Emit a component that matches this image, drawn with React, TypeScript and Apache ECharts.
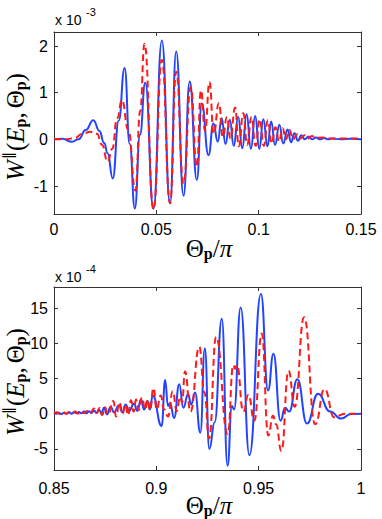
import React, { useEffect, useRef } from 'react';
import * as echarts from 'echarts';

// Top panel: W values in units of 1e-3, bottom panel: units of 1e-4
const topXTicks = ['0', '0.05', '0.1', '0.15'];
const bottomXTicks = ['0.85', '0.9', '0.95', '1'];

const topBlue: [number, number][] = [
  [0, 0], [0.004, 0.01], [0.0088, -0.05], [0.012, 0.0], [0.0155, 0.2], [0.0192, 0.41],
  [0.0222, 0.18], [0.0245, -0.08], [0.0262, -0.3], [0.0287, -0.84], [0.0316, 0.4],
  [0.0345, 1.53], [0.037, -0.1], [0.0395, -1.48], [0.042, 0.1], [0.0446, 1.21],
  [0.0486, -1.49], [0.0527, 2.12], [0.0567, -1.37], [0.0597, 1.88], [0.0633, -1.21],
  [0.0663, 1.24], [0.0698, -0.87], [0.0722, 0.77], [0.0755, -0.34], [0.0779, 0.34],
  [0.08, -0.05], [0.0819, 0.45], [0.0838, -0.1], [0.0859, 0.42], [0.0878, -0.14],
  [0.09, 0.48], [0.092, -0.19], [0.0941, 0.54], [0.0962, -0.2], [0.0983, 0.5],
  [0.1003, -0.2], [0.1023, 0.43], [0.1043, -0.15], [0.1061, 0.38], [0.108, -0.12],
  [0.1101, 0.31], [0.112, -0.09], [0.1141, 0.21], [0.1158, -0.06], [0.1175, 0.13],
  [0.1192, -0.03], [0.1208, 0.09], [0.1225, 0.0], [0.1244, 0.06], [0.1262, 0.0],
  [0.128, 0.04], [0.13, 0.0], [0.132, 0.03], [0.134, 0.0], [0.136, 0.02], [0.14, 0.0],
  [0.145, 0.01], [0.15, 0.0],
];

const topRed: [number, number][] = [
  [0, 0], [0.006, 0.0], [0.01, 0.03], [0.014, 0.12], [0.0176, 0.16], [0.021, 0.12],
  [0.0235, -0.12], [0.0262, -0.48], [0.0285, -0.2], [0.0308, 0.45], [0.0332, 0.84],
  [0.0363, 0.2], [0.0398, -1.1], [0.0421, 0.6], [0.0442, 2.05], [0.0486, -1.5],
  [0.0527, 1.7], [0.0567, -1.37], [0.0597, 1.45], [0.0633, -0.95], [0.0668, 1.12],
  [0.0698, -0.59], [0.0718, 1.05], [0.0738, 0.18], [0.076, 1.23], [0.078, 0.12],
  [0.0806, 0.78], [0.0825, 0.05], [0.0845, 0.48], [0.0862, 0.02], [0.0885, 0.68],
  [0.0903, -0.15], [0.0925, 0.56], [0.0944, -0.12], [0.0965, 0.48], [0.0985, -0.14],
  [0.1005, 0.43], [0.1025, -0.14], [0.1045, 0.41], [0.1063, -0.09], [0.1082, 0.26],
  [0.11, -0.05], [0.1117, 0.24], [0.1133, 0.0], [0.115, 0.2], [0.1168, 0.0],
  [0.1188, 0.11], [0.1205, 0.02], [0.1225, 0.09], [0.1242, 0.02], [0.126, 0.07],
  [0.128, 0.03], [0.131, 0.04], [0.135, 0.02], [0.14, 0.02], [0.15, 0.02],
];

const bottomBlue: [number, number][] = [
  [0.85, 0.1], [0.8512, 0.0], [0.8524, 0.15], [0.8537, -0.05], [0.8549, 0.15],
  [0.8561, 0.0], [0.8573, 0.2], [0.8586, 0.0], [0.8598, 0.2], [0.861, 0.05],
  [0.8622, 0.25], [0.8634, 0.05], [0.8647, 0.3], [0.8659, 0.05], [0.8671, 0.35],
  [0.8683, 0.1], [0.8696, 0.45], [0.8708, 0.1], [0.872, 0.6], [0.8732, 0.0],
  [0.8744, 0.85], [0.8759, -0.1], [0.8777, 1.0], [0.8793, 0.2], [0.8818, 1.2],
  [0.8834, 0.2], [0.885, 1.3], [0.8867, 0.4], [0.8891, 1.4], [0.8907, 0.4],
  [0.8925, 2.0], [0.894, 0.6], [0.8957, 1.8], [0.8969, 0.6], [0.8982, 2.6],
  [0.9026, -1.74], [0.9043, 4.8], [0.9057, 1.1], [0.9067, 1.5], [0.9087, -0.6],
  [0.9112, 4.2], [0.9132, 0.84], [0.9155, 2.8], [0.917, 1.3], [0.9189, 3.0],
  [0.9215, -2.7], [0.9237, 9.3], [0.9259, -5.0], [0.9285, -1.2], [0.932, 13.5],
  [0.9348, -7.4], [0.9369, 1.1], [0.938, 0.6], [0.9412, 15.1], [0.9455, -5.9],
  [0.9511, 17.0], [0.9546, 3.3], [0.9572, 8.5], [0.9607, -1.0], [0.9629, 0.84],
  [0.9649, 0.3], [0.9689, 4.9], [0.9736, -1.4], [0.979, 2.85], [0.9849, 0.3],
  [0.9903, -0.7], [0.9952, -0.05], [1.0, 0.0],
];

const bottomRed: [number, number][] = [
  [0.85, 0.1], [0.8515, 0.2], [0.8529, -0.05], [0.8544, 0.25], [0.8559, 0.0],
  [0.8573, 0.2], [0.8588, 0.0], [0.8603, 0.3], [0.8617, 0.0], [0.8632, 0.35],
  [0.8647, 0.05], [0.8661, 0.4], [0.8676, 0.0], [0.8696, 0.75], [0.871, 0.1],
  [0.8722, 0.8], [0.8735, -0.2], [0.8749, 0.9], [0.8764, -0.1], [0.879, 1.8],
  [0.8803, -0.4], [0.882, 1.6], [0.8835, 0.0], [0.8849, 1.3], [0.8862, -0.2],
  [0.8876, 1.9], [0.8889, 0.3], [0.8901, 2.0], [0.8913, 0.5], [0.893, 2.3],
  [0.8945, 0.6], [0.8957, 2.0], [0.8969, 0.5], [0.8986, 3.65], [0.9002, 0.6],
  [0.9021, 2.6], [0.9038, 0.6], [0.9057, -0.4], [0.908, 3.2], [0.91, 0.37],
  [0.9116, 2.4], [0.9126, 1.6], [0.914, 6.0], [0.9167, 0.3], [0.921, 9.5],
  [0.9235, 3.0], [0.9258, -3.5], [0.9292, 10.9], [0.9349, -2.9], [0.9376, 6.9],
  [0.9385, 6.4], [0.9394, 6.9], [0.9425, 0.3], [0.945, 2.7], [0.9479, -1.0],
  [0.9515, 11.4], [0.9547, -3.1], [0.957, -0.3], [0.9585, -1.5], [0.9611, -5.3],
  [0.9646, 6.1], [0.9676, 1.0], [0.9722, 13.7], [0.9776, -1.5], [0.9822, 3.5],
  [0.9869, -0.5], [0.9922, 0.0], [1.0, 0.0],
];

const AX = '#333333';
const BLUE = '#2244ff';
const RED = '#ff1a1a';
const SANS = "'Liberation Sans', Arial, Helvetica, sans-serif";
const SERIF = "'Liberation Serif', 'Times New Roman', serif";

function xAxes(gridIndex: number, min: number, max: number, labels: string[]) {
  const common = {
    gridIndex, type: 'value' as const, min, max, interval: 0.05,
    splitLine: { show: false },
    axisLine: { show: true, onZero: false, lineStyle: { color: AX, width: 1 } },
    axisTick: { show: true, inside: true, length: 4, lineStyle: { color: AX } },
  };
  return [
    {
      ...common, position: 'bottom',
      axisLabel: {
        show: true, color: '#000', fontSize: 16, fontFamily: SANS, margin: gridIndex === 0 ? 7 : 10,
        formatter: (v: number) => {
          const i = Math.round((v - min) / 0.05);
          return labels[i] ?? '';
        },
      },
    },
    { ...common, position: 'top', axisLabel: { show: false } },
  ];
}

function yAxes(gridIndex: number, min: number, max: number, step: number) {
  const common = {
    gridIndex, type: 'value' as const, min, max,
    splitLine: { show: false },
    axisLine: { show: true, onZero: false, lineStyle: { color: AX, width: 1 } },
    axisTick: { show: true, inside: true, length: 4, lineStyle: { color: AX } },
  };
  return [
    {
      ...common, position: 'left',
      axisLabel: {
        show: true, color: '#000', fontSize: 16, fontFamily: SANS, margin: 6,
        formatter: (v: number) => {
          const r = Math.round(v / step) * step;
          return Math.abs(v - r) < 1e-6 ? String(r) : '';
        },
      },
    },
    { ...common, position: 'right', axisLabel: { show: false } },
  ];
}

const labelRich = {
  i: { fontFamily: SERIF, fontStyle: 'italic', fontSize: 25, color: '#000' },
  n: { fontFamily: SERIF, fontSize: 25, color: '#000' },
  c: { fontFamily: SERIF, fontSize: 25, color: '#000', padding: [0, 4, 0, 0] },
  sup: { fontFamily: SERIF, fontSize: 14, color: '#000', padding: [0, 1, 14, 1] },
  sub: { fontFamily: SERIF, fontSize: 16, fontWeight: 'bold', color: '#000', padding: [10, 0, 0, 0] },
};
const yLabelText = '{i|W}{sup|∥}{n|(}{i|E}{sub|p}{c|,}{n|Θ}{sub|p}{n|)}';
const xLabelText = '{n|Θ}{sub|p}{n|/}{i|π}';

export default function App() {
  const ref = useRef<HTMLDivElement>(null);
  useEffect(() => {
    if (!ref.current) return;
    const chart = echarts.init(ref.current, undefined, { renderer: 'svg' });
    const lineCommon = { type: 'line' as const, showSymbol: false, smooth: 0.5, smoothMonotone: 'x' as const };
    chart.setOption({
      animation: false,
      backgroundColor: '#fff',
      grid: [
        { left: 54, top: 32, width: 307, height: 182 },
        { left: 54, top: 287, width: 307, height: 183 },
      ],
      xAxis: [...xAxes(0, 0, 0.15, topXTicks), ...xAxes(1, 0.85, 1, bottomXTicks)],
      yAxis: [...yAxes(0, -1.6, 2.3, 1), ...yAxes(1, -8, 18, 5)],
      series: [
        { ...lineCommon, xAxisIndex: 0, yAxisIndex: 0, data: topBlue, lineStyle: { color: BLUE, width: 2 }, z: 2 },
        { ...lineCommon, xAxisIndex: 0, yAxisIndex: 0, data: topRed, lineStyle: { color: RED, width: 2, type: [7, 4] }, z: 3 },
        { ...lineCommon, xAxisIndex: 2, yAxisIndex: 2, data: bottomBlue, lineStyle: { color: BLUE, width: 2 }, z: 2 },
        { ...lineCommon, xAxisIndex: 2, yAxisIndex: 2, data: bottomRed, lineStyle: { color: RED, width: 2, type: [7, 4] }, z: 3 },
      ],
      graphic: [
        { type: 'text', left: 55, top: 13, style: { text: 'x 10', fontSize: 14, fontFamily: SANS, fill: '#000' } },
        { type: 'text', left: 86, top: 6, style: { text: '-3', fontSize: 11, fontFamily: SANS, fill: '#000' } },
        { type: 'text', left: 55, top: 270, style: { text: 'x 10', fontSize: 14, fontFamily: SANS, fill: '#000' } },
        { type: 'text', left: 86, top: 263, style: { text: '-4', fontSize: 11, fontFamily: SANS, fill: '#000' } },
        {
          type: 'text', x: 15, y: 127, rotation: Math.PI / 2,
          style: { text: yLabelText, rich: labelRich, align: 'center', verticalAlign: 'middle' },
        },
        {
          type: 'text', x: 15, y: 382, rotation: Math.PI / 2,
          style: { text: yLabelText, rich: labelRich, align: 'center', verticalAlign: 'middle' },
        },
        {
          type: 'text', x: 209, y: 248,
          style: { text: xLabelText, rich: labelRich, align: 'center', verticalAlign: 'middle' },
        },
        {
          type: 'text', x: 209, y: 505,
          style: { text: xLabelText, rich: labelRich, align: 'center', verticalAlign: 'middle' },
        },
      ],
    });
    return () => chart.dispose();
  }, []);
  return (
    <div
      ref={ref}
      style={{ position: 'fixed', left: 0, top: 0, width: 382, height: 519, background: '#fff' }}
    />
  );
}
